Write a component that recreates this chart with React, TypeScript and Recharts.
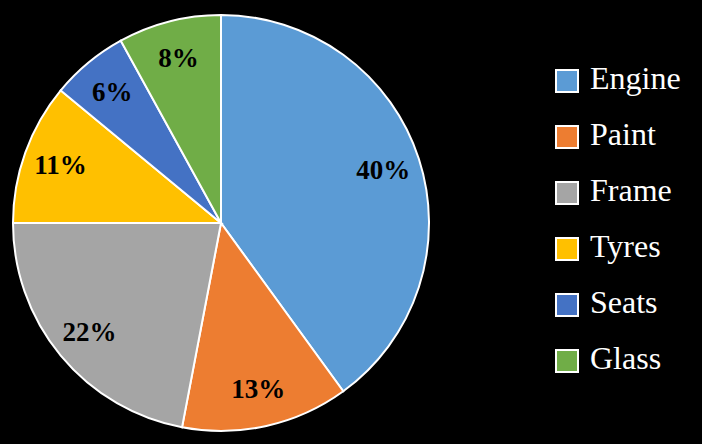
import { PieChart, Pie, Cell, Legend } from "recharts";

// parts cost share
const parts = ["Engine", "Paint", "Frame", "Tyres", "Seats", "Glass"];
const shares = [40, 13, 22, 11, 6, 8];
const colors = ["#5b9bd5", "#ed7d31", "#a5a5a5", "#ffc000", "#4472c4", "#70ad47"];

const data = parts.map((name, i) => ({ name, value: shares[i] }));

const FONT = '"Liberation Serif", "DejaVu Serif", serif';
const RAD = Math.PI / 180;

const renderLabel = (props: any) => {
    const { cx, cy, midAngle, outerRadius, value } = props;
    const r = outerRadius * 0.82;
    const x = cx + r * Math.cos(-midAngle * RAD);
    const y = cy + r * Math.sin(-midAngle * RAD);
    return (
        <text
            x={x}
            y={y}
            fill="#000"
            textAnchor="middle"
            dominantBaseline="central"
            style={{ fontFamily: FONT, fontSize: 27, fontWeight: 700 }}
        >
            {value}%
        </text>
    );
};

// legend drawn in data order (recharts sorts its payload by name)
const renderLegend = () => (
    <div style={{ fontFamily: FONT }}>
        {parts.map((name, i) => (
            <div key={name} style={{ display: "flex", alignItems: "center", height: 56 }}>
                <span
                    style={{
                        display: "inline-block",
                        width: 20,
                        height: 20,
                        background: colors[i],
                        border: "2px solid #fff",
                        marginRight: 11,
                    }}
                />
                <span style={{ color: "#fff", fontSize: 32, lineHeight: "32px", marginTop: -6 }}>
                    {name}
                </span>
            </div>
        ))}
    </div>
);

export default function App() {
    document.body.style.margin = "0";
    document.body.style.background = "#000";
    return (
        <div style={{ width: 702, height: 444, background: "#000" }}>
            <PieChart width={702} height={444} margin={{ top: 0, right: 0, bottom: 0, left: 0 }}>
                <Pie
                    data={data}
                    dataKey="value"
                    nameKey="name"
                    cx={221}
                    cy={223}
                    outerRadius={208}
                    startAngle={90}
                    endAngle={-270}
                    stroke="#fff"
                    strokeWidth={2}
                    label={renderLabel}
                    labelLine={false}
                    isAnimationActive={false}
                >
                    {data.map((d, i) => (
                        <Cell key={d.name} fill={colors[i]} />
                    ))}
                </Pie>
                <Legend
                    layout="vertical"
                    content={renderLegend}
                    wrapperStyle={{ left: 555, top: 53, width: 147 }}
                />
            </PieChart>
        </div>
    );
}
